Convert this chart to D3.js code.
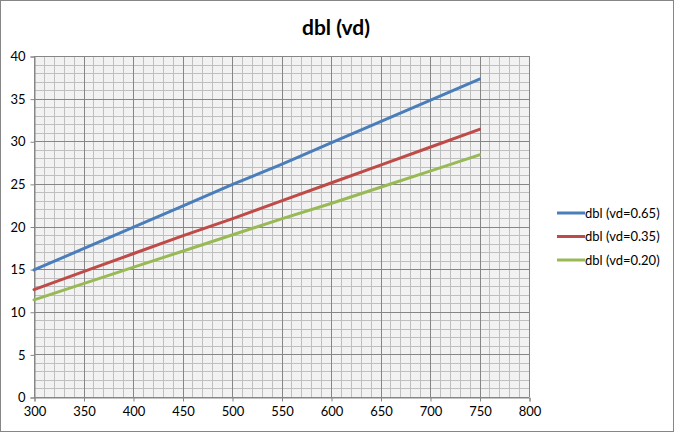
<!DOCTYPE html>
<html>
<head>
<meta charset="utf-8">
<script src="https://cdn.jsdelivr.net/npm/d3@7"></script>
<style>
  body { margin: 0; background: #fff; }
  svg { font-family: Lato, "Open Sans", sans-serif; }
</style>
</head>
<body>
<div id="chart"></div>
<script>
// values
const xValues = [300, 350, 400, 450, 500, 550, 600, 650, 700, 750];
const dbl065 = [14.9, 17.4, 19.9, 22.4, 24.9, 27.3, 29.8, 32.3, 34.8, 37.3];
const dbl035 = [12.6, 14.7, 16.8, 18.9, 20.9, 23.0, 25.1, 27.2, 29.3, 31.4];
const dbl020 = [11.4, 13.3, 15.2, 17.1, 19.0, 20.9, 22.7, 24.6, 26.5, 28.4];
const seriesNames = ['dbl (vd=0.65)', 'dbl (vd=0.35)', 'dbl (vd=0.20)'];
const xTicks = [300, 350, 400, 450, 500, 550, 600, 650, 700, 750, 800];
const yTicks = [0, 5, 10, 15, 20, 25, 30, 35, 40];
const chartTitle = 'dbl (vd)';

const colors = ['#4a7ebb', '#be4b48', '#98b954'];
const series = [dbl065, dbl035, dbl020].map((vals, i) => ({
  name: seriesNames[i],
  color: colors[i],
  points: vals.map((v, j) => ({ x: xValues[j], y: v })),
}));

const width = 674;
const height = 432;
const margin = { top: 56, left: 34 };
const plotW = 495;
const plotH = 341;

const svg = d3.select('#chart').append('svg')
  .attr('width', width)
  .attr('height', height);

// outer chart border
svg.append('rect')
  .attr('x', 0.5).attr('y', 0.5)
  .attr('width', width - 1).attr('height', height - 1)
  .attr('fill', '#fff')
  .attr('stroke', '#868686');

svg.append('text')
  .attr('x', 336)
  .attr('y', 35)
  .attr('text-anchor', 'middle')
  .attr('font-size', 21)
  .attr('font-weight', 'bold')
  .text(chartTitle);

const g = svg.append('g')
  .attr('transform', `translate(${margin.left},${margin.top})`);

const x = d3.scaleLinear().domain([300, 800]).range([0, plotW]);
const y = d3.scaleLinear().domain([0, 40]).range([plotH, 0]);

g.append('rect')
  .attr('width', plotW).attr('height', plotH)
  .attr('fill', '#f2f2f2');

// minor grid
const xMinor = d3.range(300, 801, 10);
const yMinor = d3.range(0, 41, 1);
g.append('g').selectAll('line')
  .data(xMinor)
  .join('line')
  .attr('x1', (d) => Math.round(x(d)) + 0.5).attr('x2', (d) => Math.round(x(d)) + 0.5)
  .attr('y1', 0).attr('y2', plotH)
  .attr('stroke', '#bfbfbf');
g.append('g').selectAll('line')
  .data(yMinor)
  .join('line')
  .attr('y1', (d) => Math.round(y(d)) + 0.5).attr('y2', (d) => Math.round(y(d)) + 0.5)
  .attr('x1', 0).attr('x2', plotW)
  .attr('stroke', '#bfbfbf');

// major grid
g.append('g').selectAll('line')
  .data(xTicks)
  .join('line')
  .attr('x1', (d) => Math.round(x(d)) + 0.5).attr('x2', (d) => Math.round(x(d)) + 0.5)
  .attr('y1', 0).attr('y2', plotH)
  .attr('stroke', '#868686');
g.append('g').selectAll('line')
  .data(yTicks)
  .join('line')
  .attr('y1', (d) => Math.round(y(d)) + 0.5).attr('y2', (d) => Math.round(y(d)) + 0.5)
  .attr('x1', 0).attr('x2', plotW)
  .attr('stroke', '#868686');

// axes
const xAxis = d3.axisBottom(x).tickValues(xTicks).tickSize(4).tickPadding(5);
const yAxis = d3.axisLeft(y).tickValues(yTicks).tickSize(4).tickPadding(5);

const xAxisG = g.append('g')
  .attr('transform', `translate(0.5,${plotH + 0.5})`)
  .call(xAxis);
const yAxisG = g.append('g')
  .attr('transform', 'translate(0.5,0.5)')
  .call(yAxis);

[xAxisG, yAxisG].forEach((ax) => {
  ax.select('.domain').attr('stroke', '#868686');
  ax.selectAll('.tick line').attr('stroke', '#868686');
  ax.selectAll('.tick text')
    .attr('font-family', 'Lato, "Open Sans", sans-serif')
    .attr('font-size', 13)
    .attr('fill', '#000');
});

// lines
const line = d3.line().x((d) => x(d.x)).y((d) => y(d.y));
g.append('g').selectAll('path')
  .data(series)
  .join('path')
  .attr('d', (d) => line(d.points))
  .attr('fill', 'none')
  .attr('stroke', (d) => d.color)
  .attr('stroke-width', 3)
  .attr('stroke-linecap', 'round');

// legend
const legend = svg.append('g')
  .attr('transform', 'translate(557,213)');
const items = legend.selectAll('g')
  .data(series)
  .join('g')
  .attr('transform', (d, i) => `translate(0,${i * 23.5})`);
items.append('line')
  .attr('x1', 0).attr('x2', 28)
  .attr('stroke', (d) => d.color)
  .attr('stroke-width', 3);
items.append('text')
  .attr('x', 28)
  .attr('y', 4.5)
  .attr('font-size', 13)
  .text((d) => d.name);
</script>
</body>
</html>
